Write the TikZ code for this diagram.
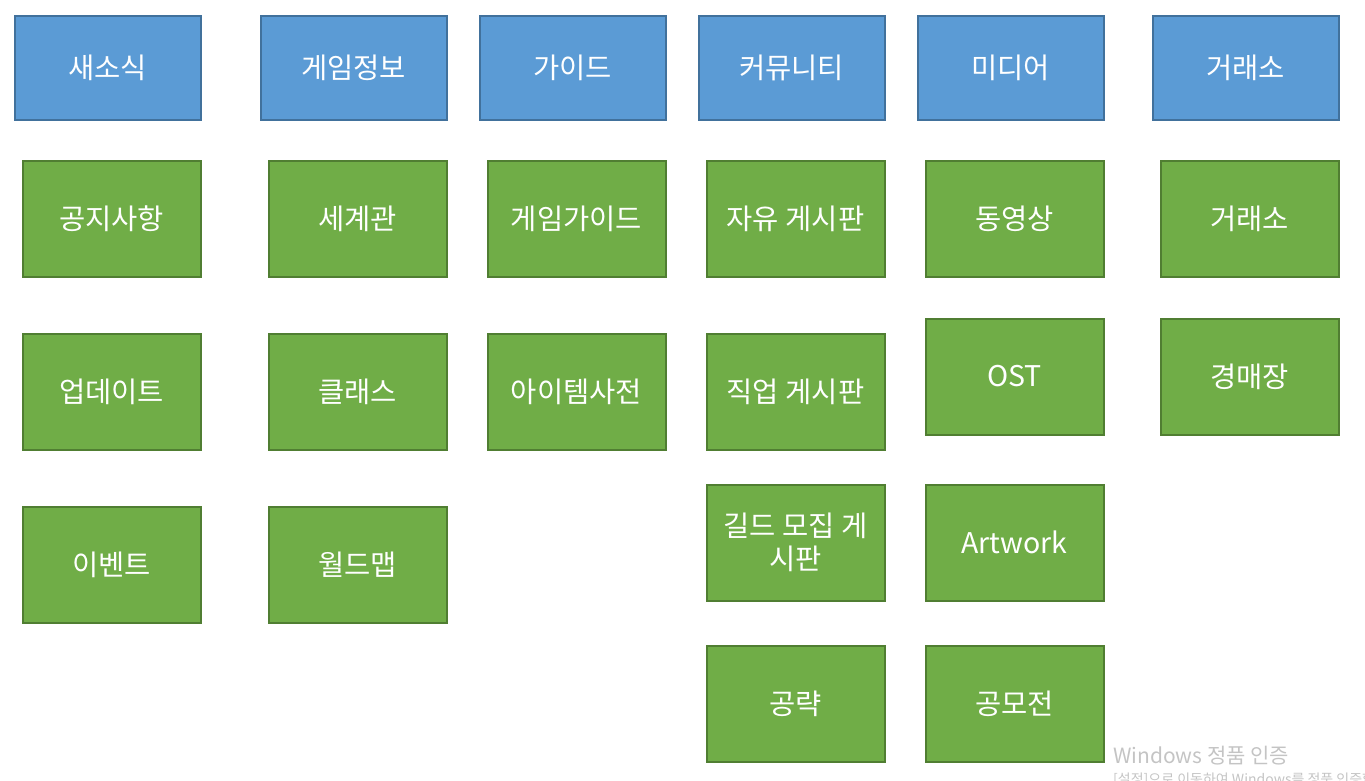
\documentclass[tikz,border=0pt]{standalone}
\usepackage{fontspec}
\setmainfont{Noto Sans CJK KR}
\definecolor{bfill}{HTML}{5B9BD5}
\definecolor{bline}{HTML}{41719C}
\definecolor{gfill}{HTML}{70AD47}
\definecolor{gline}{HTML}{507E32}
\definecolor{wm}{HTML}{C4C4C4}
\begin{document}
\begin{tikzpicture}[x=1pt,y=-1pt,
  box/.style={draw, line width=2pt, text=white, align=center, inner sep=2pt,
    font=\fontsize{28.5}{33}\selectfont},
  bluebox/.style={box, fill=bfill, draw=bline, minimum width=186pt, minimum height=104pt},
  greenbox/.style={box, fill=gfill, draw=gline, minimum width=178pt, minimum height=116pt},
  wmtext/.style={text=wm, anchor=base west, inner sep=0pt}]
\useasboundingbox (0,0) rectangle (1365,780);
\clip (0,0) rectangle (1365,780);
% top categories
\node[bluebox] (b1) at (107.5,67.5) {새소식};
\node[bluebox] (b2) at (353.5,67.5) {게임정보};
\node[bluebox] (b3) at (572.5,67.5) {가이드};
\node[bluebox] (b4) at (791.5,67.5) {커뮤니티};
\node[bluebox] (b5) at (1010.5,67.5) {미디어};
\node[bluebox] (b6) at (1245.5,67.5) {거래소};
% column 1
\node[greenbox] (g11) at (111.5,218.5) {공지사항};
\node[greenbox] (g12) at (111.5,391.5) {업데이트};
\node[greenbox] (g13) at (111.5,564.5) {이벤트};
% column 2
\node[greenbox] (g21) at (357.5,218.5) {세계관};
\node[greenbox] (g22) at (357.5,391.5) {클래스};
\node[greenbox] (g23) at (357.5,564.5) {월드맵};
% column 3
\node[greenbox] (g31) at (576.5,218.5) {게임가이드};
\node[greenbox] (g32) at (576.5,391.5) {아이템사전};
% column 4
\node[greenbox] (g41) at (795.5,218.5) {자유 게시판};
\node[greenbox] (g42) at (795.5,391.5) {직업 게시판};
\node[greenbox] (g43) at (795.5,542.5) {길드 모집 게\\시판};
\node[greenbox] (g44) at (795.5,703.5) {공략};
% column 5
\node[greenbox] (g51) at (1014.5,218.5) {동영상};
\node[greenbox] (g52) at (1014.5,376.5) {OST};
\node[greenbox] (g53) at (1014.5,542.5) {Artwork};
\node[greenbox] (g54) at (1014.5,703.5) {공모전};
% column 6
\node[greenbox] (g61) at (1249.5,218.5) {거래소};
\node[greenbox] (g62) at (1249.5,376.5) {경매장};
% watermark
\node[wmtext, font=\fontsize{21}{24}\selectfont] (wm1) at (1113,763) {Windows 정품 인증};
\node[wmtext, font=\fontsize{14}{16}\selectfont] (wm2) at (1113,784) {[설정]으로 이동하여 Windows를 정품 인증합니다.};
\end{tikzpicture}
\end{document}
